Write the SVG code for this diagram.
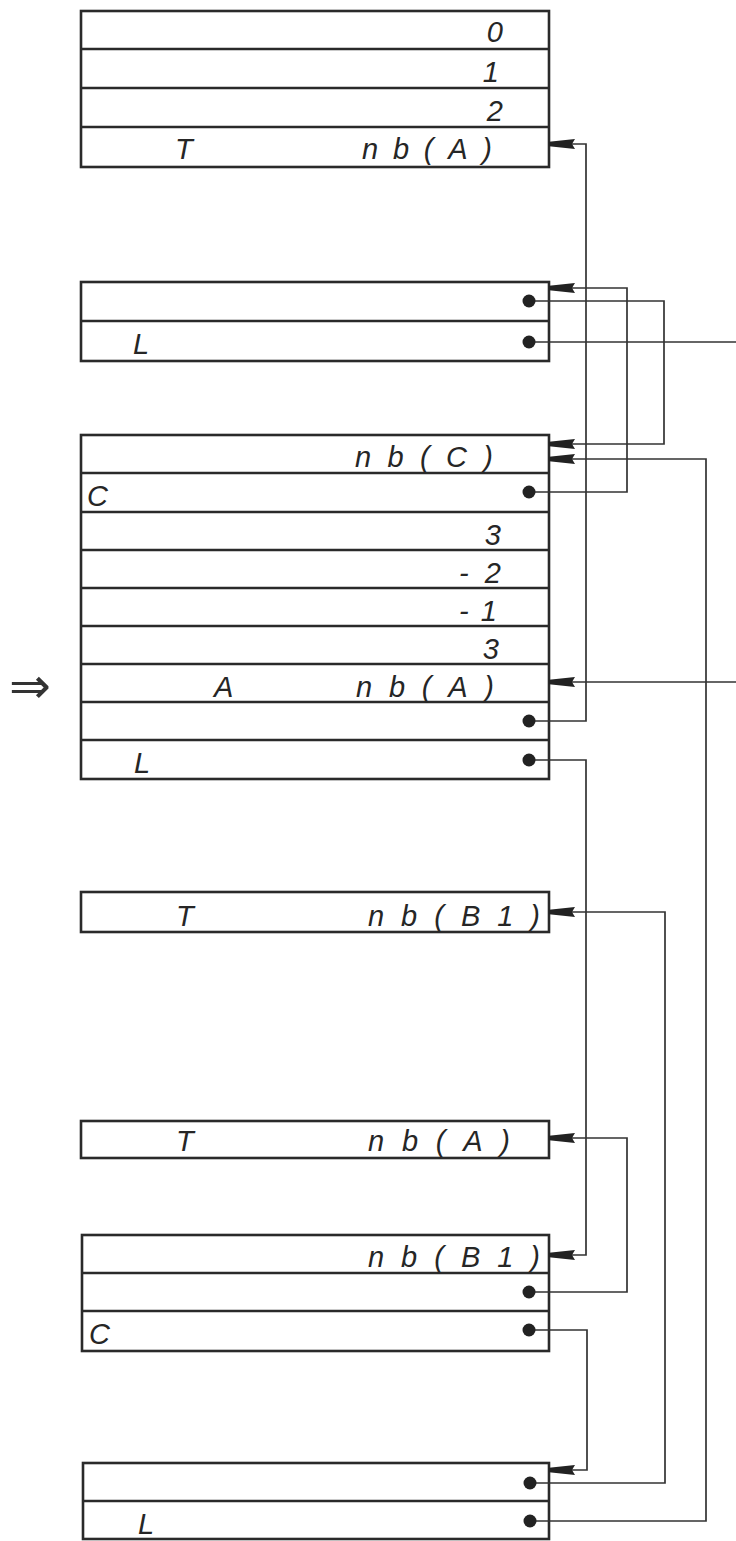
<svg xmlns="http://www.w3.org/2000/svg" width="736" height="1541" viewBox="0 0 736 1541">
<style>
.box{fill:#fff;stroke:#2a2a2a;stroke-width:2.6}
.sep{stroke:#2a2a2a;stroke-width:2.4}
.t{font-family:"Liberation Sans",Arial,sans-serif;font-size:29px;font-style:italic;fill:#262626}
.r{text-anchor:end}
.c{fill:none;stroke:#333;stroke-width:1.7;marker-end:url(#ah)}
.o{fill:none;stroke:#333;stroke-width:1.7}
.d{fill:#222}
</style>
<defs>
<marker id="ah" markerUnits="userSpaceOnUse" viewBox="-27 -6 28 12" refX="0" refY="0" markerWidth="28" markerHeight="12" orient="auto">
<path d="M0,-2.2 L0,2.2 L-26,5 L-23,0 L-26,-5 Z" fill="#222"/>
</marker>
</defs>
<rect width="736" height="1541" fill="#fff"/>

<g id="block1">
<rect class="box" x="81" y="11" width="468" height="156"/>
<line class="sep" x1="81" y1="49" x2="549" y2="49"/>
<line class="sep" x1="81" y1="88" x2="549" y2="88"/>
<line class="sep" x1="81" y1="127" x2="549" y2="127"/>
<text class="t r" x="503" y="42">0</text>
<text class="t r" x="499" y="82">1</text>
<text class="t r" x="503" y="121">2</text>
<text class="t" x="175" y="159">T</text>
<text class="t" x="362" y="159" textLength="130" lengthAdjust="spacing">nb(A)</text>
</g>

<g id="block2">
<rect class="box" x="81" y="282" width="468" height="79"/>
<line class="sep" x1="81" y1="321" x2="549" y2="321"/>
<text class="t" x="133" y="354">L</text>
</g>

<g id="block3">
<rect class="box" x="81" y="435" width="468" height="344"/>
<line class="sep" x1="81" y1="473" x2="549" y2="473"/>
<line class="sep" x1="81" y1="512" x2="549" y2="512"/>
<line class="sep" x1="81" y1="550" x2="549" y2="550"/>
<line class="sep" x1="81" y1="588" x2="549" y2="588"/>
<line class="sep" x1="81" y1="626" x2="549" y2="626"/>
<line class="sep" x1="81" y1="664" x2="549" y2="664"/>
<line class="sep" x1="81" y1="702" x2="549" y2="702"/>
<line class="sep" x1="81" y1="740" x2="549" y2="740"/>
<text class="t" x="355" y="467" textLength="138" lengthAdjust="spacing">nb(C)</text>
<text class="t" x="87" y="506">C</text>
<text class="t r" x="501" y="545">3</text>
<text class="t" x="459" y="583" textLength="42" lengthAdjust="spacing">- 2</text>
<text class="t" x="459" y="621" textLength="38" lengthAdjust="spacing">- 1</text>
<text class="t r" x="499" y="659">3</text>
<text class="t" x="214" y="697">A</text>
<text class="t" x="356" y="697" textLength="138" lengthAdjust="spacing">nb(A)</text>
<text class="t" x="134" y="773">L</text>
</g>

<g id="block4">
<rect class="box" x="81" y="892" width="468" height="40"/>
<text class="t" x="176" y="926">T</text>
<text class="t" x="368" y="926" textLength="172" lengthAdjust="spacing">nb(B1)</text>
</g>

<g id="block5">
<rect class="box" x="81" y="1121" width="468" height="37"/>
<text class="t" x="176" y="1151">T</text>
<text class="t" x="368" y="1151" textLength="142" lengthAdjust="spacing">nb(A)</text>
</g>

<g id="block6">
<rect class="box" x="82" y="1235" width="467" height="116"/>
<line class="sep" x1="82" y1="1273" x2="549" y2="1273"/>
<line class="sep" x1="82" y1="1311" x2="549" y2="1311"/>
<text class="t" x="368" y="1267" textLength="172" lengthAdjust="spacing">nb(B1)</text>
<text class="t" x="89" y="1344">C</text>
</g>

<g id="block7">
<rect class="box" x="83" y="1463" width="466" height="76"/>
<line class="sep" x1="83" y1="1501" x2="549" y2="1501"/>
<text class="t" x="138" y="1534">L</text>
</g>

<g id="pointer">
<text x="9" y="703" style="font-family:'DejaVu Sans',sans-serif;font-size:50px;fill:#333">⇒</text>
</g>

<g id="connectors">
<path class="c" d="M529,721 H586 V144 H549"/>
<path class="c" d="M529,301 H664 V444 H549"/>
<path class="o" d="M529,342 H736"/>
<path class="c" d="M529,492 H627 V288 H549"/>
<path class="c" d="M736,682 H549"/>
<path class="c" d="M530,1521 H706 V459 H549"/>
<path class="c" d="M529,760 H586 V1255 H549"/>
<path class="c" d="M530,1483 H665 V912 H549"/>
<path class="c" d="M529,1292 H627 V1138 H549"/>
<path class="c" d="M529,1330 H587 V1470 H549"/>
<circle class="d" cx="529" cy="301" r="6.5"/>
<circle class="d" cx="529" cy="342" r="6.5"/>
<circle class="d" cx="529" cy="492" r="6.5"/>
<circle class="d" cx="529" cy="721" r="6.5"/>
<circle class="d" cx="529" cy="760" r="6.5"/>
<circle class="d" cx="529" cy="1292" r="6.5"/>
<circle class="d" cx="529" cy="1330" r="6.5"/>
<circle class="d" cx="530" cy="1483" r="6.5"/>
<circle class="d" cx="530" cy="1521" r="6.5"/>
</g>
</svg>
